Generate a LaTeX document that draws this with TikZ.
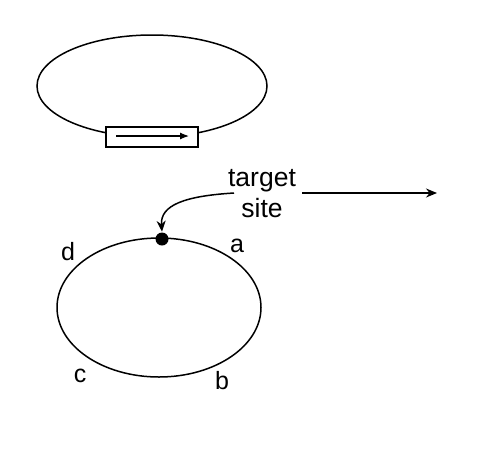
\documentclass[tikz,border=0pt]{standalone}
\usepackage{fontspec}
\setmainfont{Liberation Sans}
\usetikzlibrary{shapes.geometric,arrows.meta}
\begin{document}
\begin{tikzpicture}[x=1pt,y=-1pt,
  line width=1.5pt,
  ring/.style={draw,ellipse,inner sep=0pt},
  lbl/.style={font=\fontsize{25}{31}\selectfont,inner sep=0pt},
  tslbl/.style={font=\fontsize{26.5}{31}\selectfont,inner sep=0pt},
  tip/.style={-{Stealth[length=11pt,width=9pt]}}]
\useasboundingbox (0,0) rectangle (494,466);
% top plasmid
\node[ring,minimum width=230pt,minimum height=102pt] (top) at (152,86) {};
\node[draw,fill=white,minimum width=92pt,minimum height=20pt,inner sep=0pt] (box) at (152,137) {};
\coordinate (ga) at (116,136);
\coordinate (gb) at (189,136);
\draw[-{Latex[length=9pt,width=7pt]},line width=1.2pt] (ga) -- (gb);
% bottom circle
\node[ring,minimum width=204pt,minimum height=139pt] (bot) at (159,307.5) {};
\node[circle,fill=black,minimum size=13pt,inner sep=0pt] (dot) at (162,239) {};
% labels
\node[tslbl,align=center] (ts) at (262,194) {target\\site};
\node[lbl] (d) at (68,252) {d};
\node[lbl] (a) at (237,246) {a};
\node[lbl] (c) at (80,376) {c};
\node[lbl] (b) at (222,381) {b};
% arrows
\coordinate (s) at (234,193);
\draw[tip] (s) .. controls (185,196) and (160,205) .. (dot.north);
\coordinate (far) at (437,193);
\coordinate (near) at (302,193);
\draw[tip] (near) -- (far);
\end{tikzpicture}
\end{document}
